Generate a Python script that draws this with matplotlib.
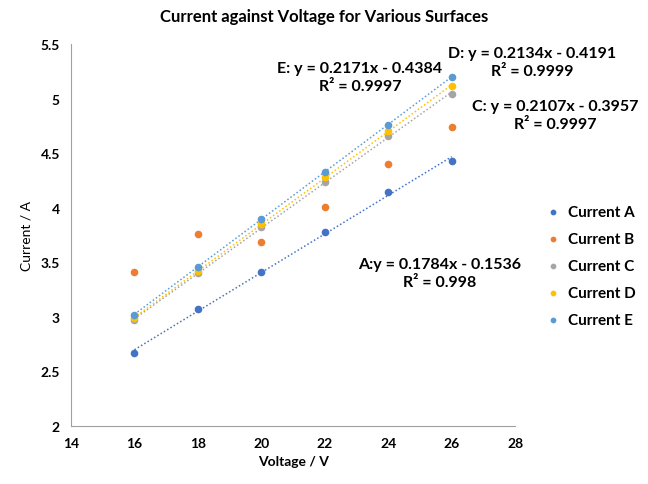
import matplotlib.pyplot as plt
import numpy as np

plt.rcParams['font.family'] = ['Lato', 'DejaVu Sans']

voltage = [16, 18, 20, 22, 24, 26]
current_a = [2.67, 3.07, 3.41, 3.78, 4.14, 4.43]
current_b = [3.41, 3.76, 3.69, 4.01, 4.40, 4.74]
current_c = [2.97, 3.40, 3.82, 4.24, 4.66, 5.04]
current_d = [2.99, 3.42, 3.85, 4.28, 4.70, 5.12]
current_e = [3.02, 3.46, 3.90, 4.33, 4.76, 5.20]

labels = ['Current A', 'Current B', 'Current C', 'Current D', 'Current E']
colors = ['#4472C4', '#ED7D31', '#A5A5A5', '#FFC000', '#5B9BD5']
series = [current_a, current_b, current_c, current_d, current_e]
with_trend = [True, False, True, True, True]

fig = plt.figure(figsize=(6.48, 4.85), dpi=100)
ax = fig.add_axes([0.1096, 0.1196, 0.6854, 0.7875])

x = np.array(voltage)
for vals, lab, col, trend in zip(series, labels, colors, with_trend):
    ax.scatter(x, vals, s=20, color=col, label=lab, zorder=3)
    if trend:
        k, b = np.polyfit(x, vals, 1)
        ax.plot(x, k * x + b, linestyle=(0, (1, 1.5)), color=col, lw=1.1, zorder=2)

ax.set_xlim(14, 28)
ax.set_ylim(2, 5.5)
ax.set_xticks(range(14, 29, 2))
ax.set_yticks(np.arange(2, 5.51, 0.5))
ax.set_yticklabels(['2', '2.5', '3', '3.5', '4', '4.5', '5', '5.5'])
ax.tick_params(length=0, labelsize=10, pad=8)
for t in ax.get_xticklabels() + ax.get_yticklabels():
    t.set_fontweight('bold')
for s in ['top', 'right']:
    ax.spines[s].set_visible(False)
for s in ['left', 'bottom']:
    ax.spines[s].set_color('#A0A0A0')

ax.set_xlabel('Voltage / V', fontsize=10, fontweight='bold', labelpad=4)
ax.set_ylabel('Current / A', fontsize=10, labelpad=6)
fig.text(0.5, 0.964, 'Current against Voltage for Various Surfaces',
         ha='center', va='center', fontsize=12, fontweight='bold')

eq_kw = dict(ha='center', va='center', fontsize=11.5, fontweight='bold',
             linespacing=1.4, transform=fig.transFigure)
fig.text(360 / 648, 1 - 78 / 485, 'E: y = 0.2171x - 0.4384\nR² = 0.9997', **eq_kw)
fig.text(532 / 648, 1 - 63 / 485, 'D: y = 0.2134x - 0.4191\nR² = 0.9999', **eq_kw)
fig.text(555 / 648, 1 - 116 / 485, 'C: y = 0.2107x - 0.3957\nR² = 0.9997', **eq_kw)
fig.text(440 / 648, 1 - 274 / 485, 'A:y = 0.1784x - 0.1536\nR² = 0.998', **eq_kw)

fig.legend(loc='upper left', bbox_to_anchor=(524 / 648, 1 - 192 / 485),
           frameon=False, handletextpad=0.0, labelspacing=0.85,
           prop={'weight': 'bold', 'size': 11}, markerscale=0.7)

fig.savefig('out.png', dpi=100)
